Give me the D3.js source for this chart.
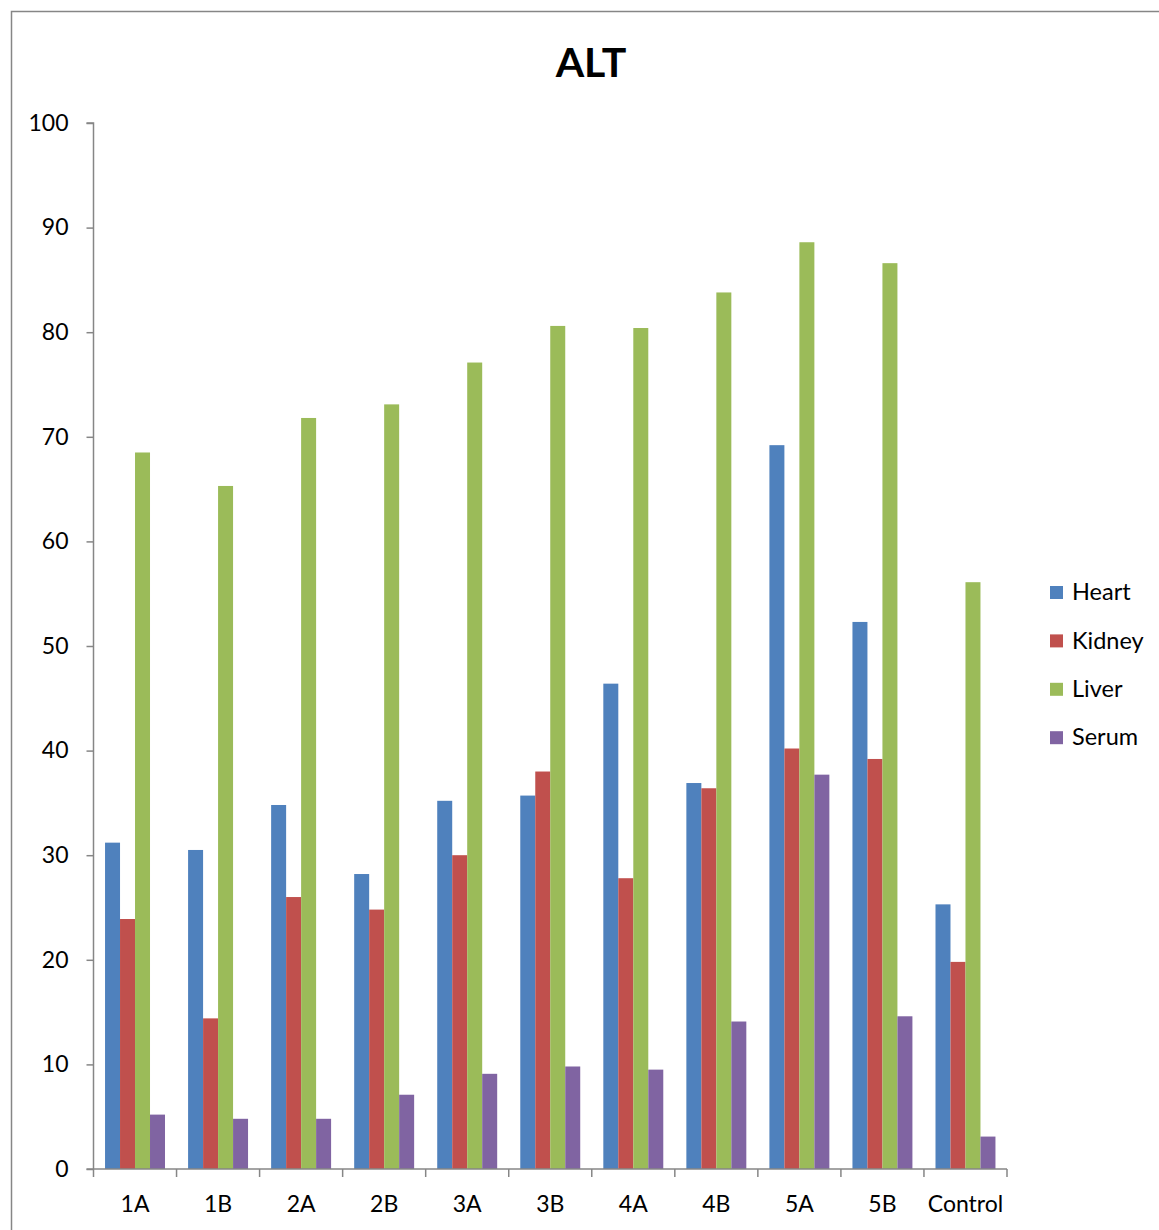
<!DOCTYPE html>
<html>
<head>
<meta charset="utf-8">
<script src="https://cdn.jsdelivr.net/npm/d3@7"></script>
<style>
  html, body { margin: 0; padding: 0; background: #fff; }
  svg { display: block; font-family: Lato, "Open Sans", "Liberation Sans", sans-serif; }
</style>
</head>
<body>
<svg id="chart" width="1159" height="1230"></svg>
<script>
// ALT activity per sample group, by tissue
const categories = ["1A", "1B", "2A", "2B", "3A", "3B", "4A", "4B", "5A", "5B", "Control"];
const seriesNames = ["Heart", "Kidney", "Liver", "Serum"];
const heart  = [31.2, 30.5, 34.8, 28.2, 35.2, 35.7, 46.4, 36.9, 69.2, 52.3, 25.3];
const kidney = [23.9, 14.4, 26.0, 24.8, 30.0, 38.0, 27.8, 36.4, 40.2, 39.2, 19.8];
const liver  = [68.5, 65.3, 71.8, 73.1, 77.1, 80.6, 80.4, 83.8, 88.6, 86.6, 56.1];
const serum  = [5.2, 4.8, 4.8, 7.1, 9.1, 9.8, 9.5, 14.1, 37.7, 14.6, 3.1];
const yTicks = [0, 10, 20, 30, 40, 50, 60, 70, 80, 90, 100];
const colors = ["#4F81BD", "#C0504D", "#9BBB59", "#8064A2"];

const seriesValues = [heart, kidney, liver, serum];

const svg = d3.select("#chart");

// outer chart frame
svg.append("rect")
  .attr("x", 11.5).attr("y", 11.5)
  .attr("width", 1200).attr("height", 1300)
  .attr("fill", "none").attr("stroke", "#868686").attr("stroke-width", 1.5);

const plot = { left: 93.5, right: 1007, top: 123, bottom: 1169 };

const x0 = d3.scaleBand().domain(categories).range([plot.left, plot.right]).paddingInner(0).paddingOuter(0);
const x1 = d3.scaleBand().domain(seriesNames).range([0, x0.bandwidth()]).paddingInner(0).paddingOuter(0.77);
const y = d3.scaleLinear().domain([0, 100]).range([plot.bottom, plot.top]);

// title
svg.append("text")
  .attr("x", 591).attr("y", 77)
  .attr("text-anchor", "middle")
  .attr("font-size", 41).attr("font-weight", "bold")
  .attr("fill", "#000")
  .text("ALT");

// bars
const groups = svg.append("g").selectAll("g")
  .data(categories)
  .join("g")
  .attr("transform", d => `translate(${x0(d)},0)`);

groups.selectAll("rect")
  .data((c, i) => seriesNames.map((s, k) => ({ s, k, v: seriesValues[k][i] })))
  .join("rect")
  .attr("x", d => x1(d.s))
  .attr("width", x1.bandwidth())
  .attr("y", d => y(d.v))
  .attr("height", d => y(0) - y(d.v))
  .attr("fill", d => colors[d.k]);

// y axis
const yAxis = d3.axisLeft(y).tickValues(yTicks).tickSize(7).tickPadding(18);
const yg = svg.append("g").attr("transform", `translate(${plot.left},0)`).call(yAxis);
yg.select(".domain").attr("stroke", "#868686").attr("stroke-width", 1.5).attr("d", `M-7,${plot.top}H0V${plot.bottom}`);
yg.selectAll(".tick line").attr("stroke", "#868686").attr("stroke-width", 1.5);
yg.selectAll(".tick text").attr("font-size", 23).attr("fill", "#000").attr("font-family", "Lato, sans-serif");

// x axis
const xAxis = d3.axisBottom(x0).tickSize(0).tickPadding(27);
const xg = svg.append("g").attr("transform", `translate(0,${plot.bottom})`).call(xAxis);
xg.select(".domain").attr("stroke", "#868686").attr("stroke-width", 1.5).attr("d", `M${plot.left - 7},0H${plot.right}`);
xg.selectAll(".tick text").attr("font-size", 23).attr("fill", "#000").attr("font-family", "Lato, sans-serif");
// category separators
xg.append("g").selectAll("line")
  .data(categories.map(c => x0(c)).concat([plot.right]))
  .join("line")
  .attr("x1", d => d).attr("x2", d => d)
  .attr("y1", 0).attr("y2", 8)
  .attr("stroke", "#868686").attr("stroke-width", 1.5);

// legend
const legend = svg.append("g").attr("transform", "translate(1050,592)");
const items = legend.selectAll("g").data(seriesNames).join("g")
  .attr("transform", (d, i) => `translate(0,${i * 48.4})`);
items.append("rect").attr("x", 0).attr("y", -6).attr("width", 13).attr("height", 13)
  .attr("fill", (d, i) => colors[i]);
items.append("text").attr("x", 22).attr("y", 0).attr("dy", "0.35em")
  .attr("font-size", 23.5).attr("fill", "#000").text(d => d);
</script>
</body>
</html>
